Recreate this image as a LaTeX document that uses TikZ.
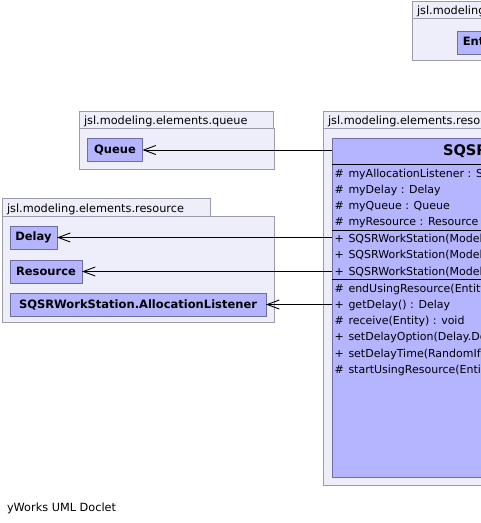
\documentclass[tikz,border=0pt]{standalone}
\usepackage{fontspec}
\setmainfont{DejaVu Sans}
\usetikzlibrary{arrows.meta}
\definecolor{pkgfill}{RGB}{238,238,250}
\definecolor{pkgline}{RGB}{155,155,170}
\definecolor{clsfill}{RGB}{180,180,255}
\definecolor{clsline}{RGB}{110,110,165}
\newcommand\pkgfont{\fontsize{11.3}{13}\selectfont}
\newcommand\memfont{\fontsize{11}{13}\selectfont}
\newcommand\clsboldfont{\fontsize{11.5}{13}\selectfont\bfseries}
\newcommand\ttlfont{\fontsize{14.6}{17}\selectfont\bfseries}
\begin{document}
\begin{tikzpicture}[x=1pt,y=-1pt,
  every node/.style={inner sep=0pt, outer sep=0pt},
  pkgshape/.style={draw=pkgline, fill=pkgfill, line width=0.9pt, anchor=north west, rectangle},
  pkglabel/.style={anchor=base west, font=\pkgfont},
  clsbox/.style={draw=clsline, fill=clsfill, line width=0.9pt, anchor=north west, rectangle, minimum height=23pt, font=\clsboldfont},
  member/.style={anchor=base west, font=\memfont},
  sepline/.style={draw=black, line width=0.9pt},
  dep/.style={draw=black, line width=0.9pt, -{Straight Barb[length=12pt,width=9pt]}}]
\useasboundingbox (0,0) rectangle (481,523);
\fill[white] (0,0) rectangle (481,523);
\clip (0,0) rectangle (481,523);

% top-right package
\node[pkgshape, minimum width=190pt, minimum height=17pt] (etab) at (412,1.5) {};
\node[pkgshape, minimum width=200pt, minimum height=42pt] (epkg) at (412,18.5) {};
\node[pkglabel] (elbl) at (417,14.5) {jsl.modeling.entity};
\node[clsbox, minimum width=50pt] (entity) at (457,31) {Entity};

% queue package
\node[pkgshape, minimum width=194pt, minimum height=17.5pt] (qtab) at (79,111) {};
\node[pkgshape, minimum width=195pt, minimum height=40.5pt] (qpkg) at (79,128.5) {};
\node[pkglabel] (qlbl) at (84,124.5) {jsl.modeling.elements.queue};
\node[clsbox, minimum width=55pt] (queue) at (87.5,138.5) {Queue};

% resource package (left)
\node[pkgshape, minimum width=208pt, minimum height=18.5pt] (rtab) at (2,198) {};
\node[pkgshape, minimum width=272pt, minimum height=106pt] (rpkg) at (2,216.5) {};
\node[pkglabel] (rlbl) at (7,212) {jsl.modeling.elements.resource};
\node[clsbox, minimum width=47pt] (delay) at (10,226) {Delay};
\node[clsbox, minimum width=72pt] (resource) at (10,260) {Resource};
\node[clsbox, minimum width=256pt] (alloc) at (10,293) {SQSRWorkStation.AllocationListener};

% main package
\node[pkgshape, minimum width=206pt, minimum height=17.5pt] (mtab) at (323,111) {};
\node[pkgshape, minimum width=390pt, minimum height=357pt] (mpkg) at (323,128.5) {};
\node[pkglabel] (mlbl) at (328,124.5) {jsl.modeling.elements.resource};
\node[clsbox, minimum width=369pt, minimum height=338.5pt] (cls) at (332,138.5) {};
\node[font=\ttlfont] (title) at (516.5,151.5) {SQSRWorkStation};
\draw[sepline] (332,164) -- (701,164);
\draw[sepline] (332,230) -- (701,230);
\draw[sepline] (332,279.5) -- (701,279.5);

% attributes
\node[member] (a1s) at (334.5,177) {\#};
\node[member] (a1) at (348.5,177) {myAllocationListener : SQSRWorkStation.AllocationListener};
\node[member] (a2s) at (334.5,193.3) {\#};
\node[member] (a2) at (348.5,193.3) {myDelay : Delay};
\node[member] (a3s) at (334.5,209.6) {\#};
\node[member] (a3) at (348.5,209.6) {myQueue : Queue};
\node[member] (a4s) at (334.5,225.9) {\#};
\node[member] (a4) at (348.5,225.9) {myResource : Resource};
% constructors
\node[member] (c1s) at (334.5,242.5) {+};
\node[member] (c1) at (348.5,242.5) {SQSRWorkStation(ModelElement, Resource, Queue)};
\node[member] (c2s) at (334.5,258.8) {+};
\node[member] (c2) at (348.5,258.8) {SQSRWorkStation(ModelElement, Resource, Queue, RandomIfc)};
\node[member] (c3s) at (334.5,275.1) {+};
\node[member] (c3) at (348.5,275.1) {SQSRWorkStation(ModelElement, Resource, Queue, RandomIfc, String)};
% methods
\node[member] (m1s) at (334.5,292) {\#};
\node[member] (m1) at (348.5,292) {endUsingResource(Entity) : void};
\node[member] (m2s) at (334.5,308.3) {+};
\node[member] (m2) at (348.5,308.3) {getDelay() : Delay};
\node[member] (m3s) at (334.5,324.6) {\#};
\node[member] (m3) at (348.5,324.6) {receive(Entity) : void};
\node[member] (m4s) at (334.5,340.9) {+};
\node[member] (m4) at (348.5,340.9) {setDelayOption(Delay.DelayOption) : void};
\node[member] (m5s) at (334.5,357.2) {+};
\node[member] (m5) at (348.5,357.2) {setDelayTime(RandomIfc) : void};
\node[member] (m6s) at (334.5,373.5) {\#};
\node[member] (m6) at (348.5,373.5) {startUsingResource(Entity) : void};

% connectors
\draw[dep] (cls.west |- queue.east) -- (queue.east);
\draw[dep] (cls.west |- delay.east) -- (delay.east);
\draw[dep] (cls.west |- resource.east) -- (resource.east);
\draw[dep] (cls.west |- alloc.east) -- (alloc.east);

% footer
\node[anchor=base west, font=\pkgfont] (footer) at (7,511) {yWorks UML Doclet};
\end{tikzpicture}
\end{document}
